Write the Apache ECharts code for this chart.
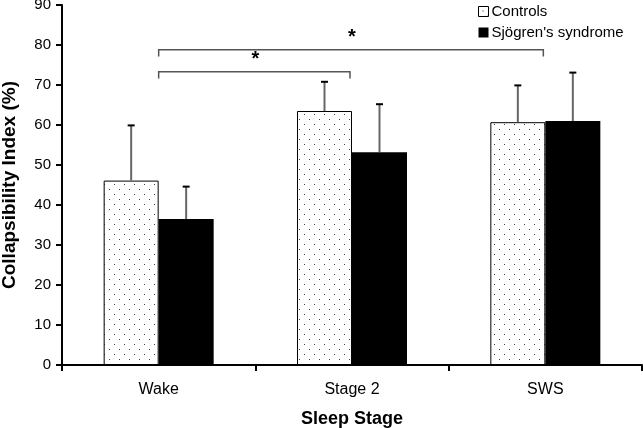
<!DOCTYPE html>
<html><head><meta charset="utf-8">
<script src="https://cdn.jsdelivr.net/npm/echarts@6/dist/echarts.min.js"></script>
<style>html,body{margin:0;padding:0;background:#fff}#c{width:643px;height:428px}</style>
</head><body><div id="c"></div>
<script>
const categories = ['Wake', 'Stage 2', 'SWS'];
const controlsMean = [46.1, 63.5, 60.7];
const sjogrenMean = [36.5, 53.2, 61];
const controlsSD = [13.8, 7.3, 9.2];
const sjogrenSD = [8.1, 12, 12.1];
const yTicks = [0, 90, 10];
// significance brackets: [fromCategory, toCategory, level, dropTo]
const brackets = [[0, 2, 78.8, 77.1], [0, 1, 73.3, 71.6]];

const cv = document.createElement('canvas');
cv.width = 10; cv.height = 10;
const cx = cv.getContext('2d');
cx.fillStyle = '#fff'; cx.fillRect(0, 0, 10, 10);
cx.fillStyle = '#444';
cx.fillRect(4, 4, 1, 1); cx.fillRect(9, 9, 1, 1);
const dots = { image: cv, repeat: 'repeat' };

const BW = 55;
const font = 'Liberation Sans, Arial, sans-serif';

function errSeries(means, sds, side) {
  return {
    type: 'custom', z: 5, silent: true,
    data: means.map((m, i) => [i, m, sds[i]]),
    renderItem: function (params, api) {
      const x = api.value(0), v = api.value(1), e = api.value(2);
      const p0 = api.coord([x, v]), p1 = api.coord([x, v + e]);
      const px = p0[0] + side * BW / 2;
      return {
        type: 'group', children: [
          { type: 'line', shape: { x1: px, y1: p0[1], x2: px, y2: p1[1] }, style: { stroke: '#666', lineWidth: 2 } },
          { type: 'line', shape: { x1: px - 3.5, y1: p1[1], x2: px + 3.5, y2: p1[1] }, style: { stroke: '#000', lineWidth: 2 } }
        ]
      };
    }
  };
}

const chart = echarts.init(document.getElementById('c'));
chart.setOption({
  animation: false,
  grid: { left: 62, right: 1, top: 5, bottom: 63, containLabel: false, outerBoundsMode: 'none' },
  legend: {
    left: 478, top: 4, padding: 0, orient: 'vertical', itemWidth: 10, itemHeight: 10, itemGap: 6,
    icon: 'rect',
    textStyle: { fontFamily: font, fontSize: 15, color: '#000', padding: [0, 0, 0, -2] },
    data: [
      { name: 'Controls', itemStyle: { color: dots, borderColor: '#000', borderWidth: 1 } },
      { name: "Sjögren's syndrome", itemStyle: { color: '#000' } }
    ]
  },
  xAxis: {
    type: 'category', data: categories,
    axisLine: { lineStyle: { color: '#000', width: 2 } },
    axisTick: { show: true, length: 6, lineStyle: { color: '#000', width: 2 } },
    axisLabel: { fontFamily: font, fontSize: 16, color: '#000', margin: 17 },
    name: 'Sleep Stage', nameLocation: 'middle', nameGap: 45,
    nameTextStyle: { fontFamily: font, fontSize: 18, fontWeight: 'bold', color: '#000' }
  },
  yAxis: {
    type: 'value', min: yTicks[0], max: yTicks[1], interval: yTicks[2],
    axisLine: { show: true, lineStyle: { color: '#000', width: 2 } },
    axisTick: { show: true, length: 6, lineStyle: { color: '#000', width: 2 } },
    splitLine: { show: false },
    axisLabel: { fontFamily: font, fontSize: 15, color: '#000', margin: 11 },
    name: 'Collapsibility Index (%)', nameLocation: 'middle', nameGap: 43,
    nameTextStyle: { fontFamily: font, fontSize: 19, fontWeight: 'bold', color: '#000' }
  },
  series: [
    { name: 'Controls', type: 'bar', barWidth: BW, barGap: '0%', data: controlsMean,
      itemStyle: { color: dots, borderColor: '#000', borderWidth: 1 } },
    { name: "Sjögren's syndrome", type: 'bar', barWidth: BW, barGap: '0%', data: sjogrenMean,
      itemStyle: { color: '#000' } },
    errSeries(controlsMean, controlsSD, -1),
    errSeries(sjogrenMean, sjogrenSD, 1),
    {
      type: 'custom', z: 6, silent: true, data: brackets,
      renderItem: function (params, api) {
        const a = api.value(0), b = api.value(1), lv = api.value(2), dv = api.value(3);
        const pa = api.coord([a, lv]), pb = api.coord([b, lv]);
        const da = api.coord([a, dv]);
        return {
          type: 'group', children: [
            { type: 'polyline', shape: { points: [[pa[0], da[1]], [pa[0], pa[1]], [pb[0] - 2, pb[1]], [pb[0] - 2, da[1]]] },
              style: { stroke: '#555', lineWidth: 1.5, fill: null } },
            { type: 'text', x: (pa[0] + pb[0]) / 2, y: pa[1] - 2,
              style: { text: '*', fontFamily: font, fontSize: 20, fontWeight: 'bold', fill: '#000', align: 'center', verticalAlign: 'bottom' } }
          ]
        };
      }
    }
  ]
});
</script></body></html>
